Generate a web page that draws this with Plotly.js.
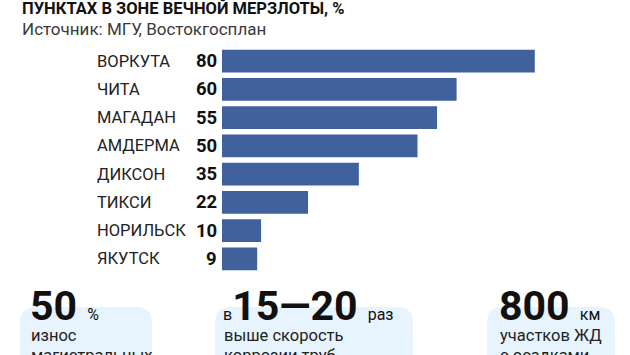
<!DOCTYPE html>
<html>
<head>
<meta charset="utf-8">
<script src="https://cdn.plot.ly/plotly-3.0.1.min.js"></script>
<style>
html,body{margin:0;padding:0;background:#fff;}
#chart{width:630px;height:355px;}
</style>
</head>
<body>
<div id="chart"></div>
<script>
// ---- data ----
const cities = ["ВОРКУТА", "ЧИТА", "МАГАДАН", "АМДЕРМА", "ДИКСОН", "ТИКСИ", "НОРИЛЬСК", "ЯКУТСК"];
const values = [80, 60, 55, 50, 35, 22, 10, 9];
const titleText = "ПУНКТАХ В ЗОНЕ ВЕЧНОЙ МЕРЗЛОТЫ, %";
const sourceText = "Источник: МГУ, Востокгосплан";
const factNumbers = ["50", "15—20", "800"];
const factPrefix = ["", "в", ""];
const factUnits = ["%", "раз", "км"];
const factLine1 = ["износ", "выше скорость", "участков ЖД"];
const factLine2 = ["магистральных", "коррозии труб", "с осадками"];

// ---- layout helpers (pixel -> paper) ----
const W = 630, H = 355;
const M = {l: 222, r: 17, t: 47, b: 82};
const pw = W - M.l - M.r, ph = H - M.t - M.b;
const px = x => (x - M.l) / pw;
const py = y => (H - M.b - y) / ph;

const FONT = "Roboto, 'DejaVu Sans', sans-serif";

const annotations = [];
// title + source
annotations.push({xref: 'paper', yref: 'paper', x: px(20), y: py(8), xanchor: 'left', yanchor: 'middle',
  text: '<b>' + titleText + '</b>', showarrow: false, font: {family: FONT, size: 16.5, color: '#111'}});
annotations.push({xref: 'paper', yref: 'paper', x: px(20), y: py(29), xanchor: 'left', yanchor: 'middle',
  text: sourceText, showarrow: false, font: {family: FONT, size: 17, color: '#3a3a3a'}});

// category labels and values
cities.forEach((c, i) => {
  annotations.push({xref: 'paper', yref: 'y', x: px(95), y: c, xanchor: 'left', yanchor: 'middle',
    text: c, showarrow: false, font: {family: FONT, size: 16.5, color: '#222'}});
  annotations.push({xref: 'x', yref: 'y', x: 0, xshift: -3, y: c, xanchor: 'right', yanchor: 'middle',
    text: '<b>' + values[i] + '</b>', showarrow: false, font: {family: FONT, size: 18.5, color: '#111'}});
});

// fact blocks
const blockX = [28, 221, 497];
const boxes = [[20, 152], [215, 413], [487, 615]];
const shapes = boxes.map(b => {
  const x0 = px(b[0]), x1 = px(b[1]), y0 = py(360), y1 = py(307);
  const rx = 16 / pw, ry = 16 / ph;
  return {type: 'path', xref: 'paper', yref: 'paper', layer: 'below', line: {width: 0}, fillcolor: '#e8f4fd',
    path: `M ${x0} ${y0} L ${x0} ${y1 - ry} Q ${x0} ${y1} ${x0 + rx} ${y1} L ${x1 - rx} ${y1} Q ${x1} ${y1} ${x1} ${y1 - ry} L ${x1} ${y0} Z`};
});

factNumbers.forEach((n, i) => {
  const x = blockX[i];
  const big = '<b>' + n + '</b>';
  const pre = factPrefix[i] ? '<span style="font-size:16px">' + factPrefix[i] + '</span>' : '';
  annotations.push({xref: 'paper', yref: 'paper', x: px(x), y: py(332), xanchor: 'left', yanchor: 'bottom',
    text: pre + big + ' <span style="font-size:16px">' + factUnits[i] + '</span>', showarrow: false,
    font: {family: FONT, size: 41, color: '#111'}});
  annotations.push({xref: 'paper', yref: 'paper', x: px(x + 1), y: py(335), xanchor: 'left', yanchor: 'middle',
    text: factLine1[i], showarrow: false, font: {family: FONT, size: 16.5, color: '#222'}});
  annotations.push({xref: 'paper', yref: 'paper', x: px(x + 1), y: py(355), xanchor: 'left', yanchor: 'middle',
    text: factLine2[i], showarrow: false, font: {family: FONT, size: 16.5, color: '#222'}});
});

const trace = {
  type: 'bar', orientation: 'h', x: values, y: cities,
  marker: {color: '#41619d', line: {width: 0}},
  hoverinfo: 'none'
};

const layout = {
  width: W, height: H, margin: M,
  paper_bgcolor: '#fff', plot_bgcolor: '#fff',
  showlegend: false, bargap: 0.19,
  xaxis: {range: [0, 100], visible: false, fixedrange: true},
  yaxis: {autorange: 'reversed', visible: false, fixedrange: true, type: 'category'},
  annotations: annotations,
  shapes: shapes
};

Plotly.newPlot('chart', [trace], layout, {displayModeBar: false, staticPlot: true});
</script>
</body>
</html>
